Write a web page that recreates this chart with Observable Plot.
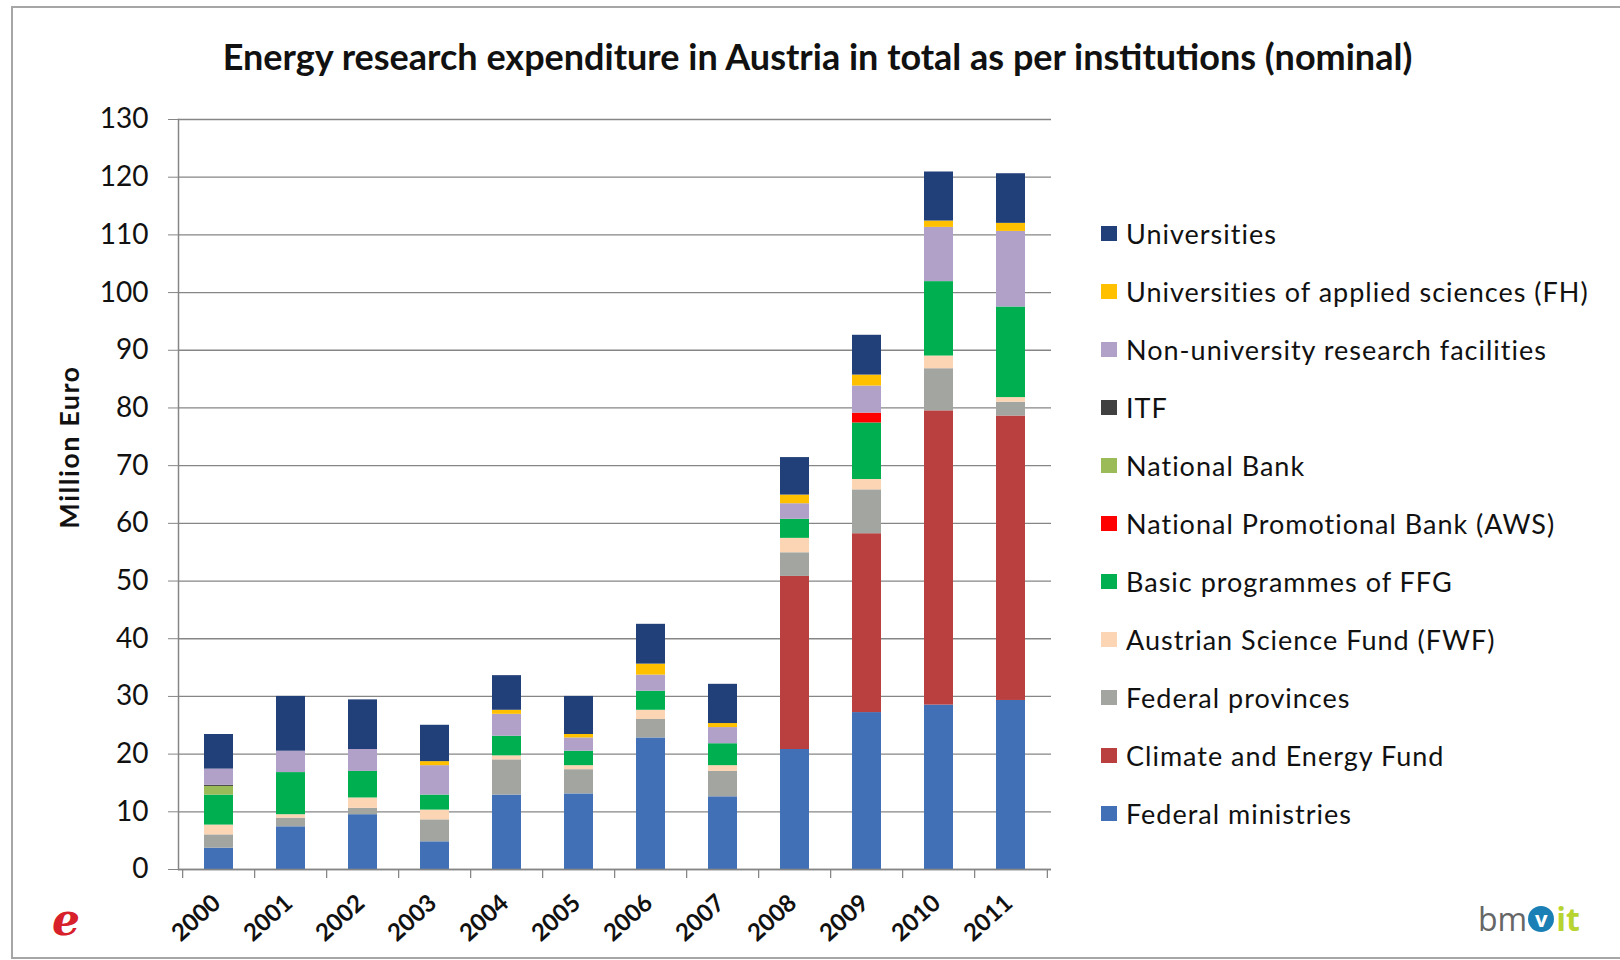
<!DOCTYPE html>
<html>
<head>
<meta charset="utf-8">
<script src="https://cdn.jsdelivr.net/npm/d3@7"></script>
<script src="https://cdn.jsdelivr.net/npm/@observablehq/plot@0.6"></script>
<style>
  body { margin: 0; background: #fff; }
  #wrap { position: relative; width: 1620px; height: 960px; overflow: hidden; font-family: Lato, "Open Sans", sans-serif; color: #111; }
  #border { position: absolute; left: 11px; top: 6px; width: 1640px; height: 949px; border-left: 2px solid #a6a6a6; border-top: 2px solid #a6a6a6; border-bottom: 2px solid #a6a6a6; }
  #title { position: absolute; left: 0; width: 1635px; top: 34px; text-align: center; font-weight: bold; font-size: 36px; }
  #chart { position: absolute; left: 0; top: 0; }
  #ylabel { position: absolute; left: 68px; top: 447px; transform: translate(-50%, -50%) rotate(-90deg); font-weight: bold; font-size: 27px; letter-spacing: 1.5px; white-space: nowrap; }
  #legend { position: absolute; left: 1101px; top: 0; }
  .item { position: absolute; left: 0; white-space: nowrap; font-size: 27px; letter-spacing: 1px; display: flex; align-items: center; }
  .sw { width: 16px; height: 15px; margin-right: 9px; display: inline-block; }
  #logoE { position: absolute; left: 52px; top: 894px; color: #d8202a; font-style: italic; font-weight: bold; font-size: 44px; font-family: "DejaVu Serif", serif; }
  #logoB { position: absolute; left: 1478px; top: 897px; font-size: 32px; color: #666; font-family: "Open Sans", sans-serif; display: flex; align-items: center; }
  #logoB .v { display: inline-block; width: 26px; height: 26px; border-radius: 50%; background: #1a7fb5; color: #fff; font-size: 22px; line-height: 24px; text-align: center; font-weight: bold; margin-left: 1px; }
  #logoB .it { color: #b8d430; font-weight: bold; margin-left: 2px; }
</style>
</head>
<body>
<div id="wrap">
  <div id="border"></div>
  <div id="chart"></div>
  <div id="title"></div>
  <div id="ylabel"></div>
  <div id="legend"></div>
  <div id="logoE">e</div>
  <div id="logoB"><span>bm</span><span class="v">v</span><span class="it">it</span></div>
</div>
<script>
// ---- data ----
const titleText = "Energy research expenditure in Austria in total as per institutions (nominal)";
const yLabelText = "Million Euro";
const years = ["2000","2001","2002","2003","2004","2005","2006","2007","2008","2009","2010","2011"];
const yTicks = [0,10,20,30,40,50,60,70,80,90,100,110,120,130];

// series values (million euro), one array per institution
const federalMinistries   = [3.7, 7.4, 9.5, 4.8, 12.9, 13.1, 22.8, 12.6, 20.8, 27.2, 28.5, 29.3];
const climateEnergyFund   = [0, 0, 0, 0, 0, 0, 0, 0, 30.0, 31.0, 51.0, 49.3];
const federalProvinces    = [2.3, 1.5, 1.1, 3.8, 6.1, 4.2, 3.2, 4.4, 4.1, 7.6, 7.3, 2.4];
const scienceFundFWF      = [1.7, 0.6, 1.8, 1.7, 0.7, 0.7, 1.6, 1.0, 2.5, 1.8, 2.2, 0.8];
const basicFFG            = [5.2, 7.3, 4.6, 2.6, 3.4, 2.5, 3.3, 3.8, 3.3, 9.8, 12.9, 15.7];
const promotionalBankAWS  = [0, 0, 0, 0, 0, 0, 0, 0, 0, 1.7, 0, 0];
const nationalBank        = [1.5, 0, 0, 0, 0, 0, 0, 0, 0, 0, 0, 0];
const itf                 = [0.2, 0, 0, 0, 0, 0, 0, 0, 0, 0, 0, 0];
const nonUniversity       = [2.8, 3.7, 3.8, 5.1, 3.8, 2.3, 2.8, 2.8, 2.7, 4.7, 9.4, 13.1];
const appliedSciencesFH   = [0, 0, 0, 0.7, 0.7, 0.6, 1.9, 0.7, 1.5, 1.9, 1.1, 1.4];
const universities        = [6.0, 9.5, 8.6, 6.3, 6.0, 6.6, 6.9, 6.8, 6.5, 6.9, 8.5, 8.6];

// stack order, bottom to top
const seriesNames = [
  "Federal ministries",
  "Climate and Energy Fund",
  "Federal provinces",
  "Austrian Science Fund (FWF)",
  "Basic programmes of FFG",
  "National Promotional Bank (AWS)",
  "National Bank",
  "ITF",
  "Non-university research facilities",
  "Universities of applied sciences (FH)",
  "Universities"
];
const seriesValues = [federalMinistries, climateEnergyFund, federalProvinces, scienceFundFWF, basicFFG,
  promotionalBankAWS, nationalBank, itf, nonUniversity, appliedSciencesFH, universities];
const seriesColors = ["#4270b6", "#b9403f", "#a2a5a0", "#fcd5b5", "#00b050",
  "#ff0000", "#9bbb59", "#404040", "#b1a0c7", "#ffc000", "#213f78"];

// ---- table ----
const table = [];
seriesNames.forEach((s, si) => years.forEach((yr, yi) => table.push({year: yr, series: s, value: seriesValues[si][yi]})));

// ---- layout ----
const W = 1620, H = 960, mL = 178, mR = 569, mT = 119, mB = 91;
const step = (W - mL - mR) / years.length;
const axisColor = "#868686";

const chart = Plot.plot({
  width: W, height: H,
  marginLeft: mL, marginRight: mR, marginTop: mT, marginBottom: mB,
  style: {fontFamily: "Lato, 'Open Sans', sans-serif", background: "transparent", overflow: "visible", color: "#111"},
  x: {domain: years, paddingInner: 0.6, paddingOuter: 0.3, label: null},
  y: {domain: [0, 130], label: null},
  color: {domain: seriesNames, range: seriesColors},
  marks: [
    Plot.gridY(yTicks, {stroke: axisColor, strokeOpacity: 1, strokeWidth: 1.3}),
    Plot.barY(table, {x: "year", y: "value", fill: "series", order: seriesNames}),
    Plot.ruleY([0], {stroke: axisColor, strokeWidth: 1.5}),
    Plot.frame({anchor: "left", stroke: axisColor, strokeWidth: 1.5}),
    Plot.axisY(yTicks, {tickSize: 10, tickPadding: 20, fontSize: 28, stroke: axisColor, fill: "#111", label: null}),
    Plot.ruleX(years, {x: d => d, dx: -step / 2, y1: 0, y2: 0, insetBottom: -9, stroke: axisColor, strokeWidth: 1.3}),
    Plot.ruleX(years.slice(-1), {x: d => d, dx: step / 2, y1: 0, y2: 0, insetBottom: -9, stroke: axisColor, strokeWidth: 1.3}),
    Plot.axisX({tickSize: 0, tickPadding: 30, tickRotate: -42, fontSize: 24, fontWeight: "bold", dx: -2, label: null, fill: "#111"})
  ]
});
document.getElementById("chart").appendChild(chart);

document.getElementById("title").textContent = titleText;
document.getElementById("ylabel").textContent = yLabelText;

// legend (top to bottom = reverse of stack order)
const legend = document.getElementById("legend");
const legendTop = 233.5, legendGap = 58;
seriesNames.slice().reverse().forEach((name, i) => {
  const color = seriesColors[seriesNames.indexOf(name)];
  const item = document.createElement("div");
  item.className = "item";
  item.style.top = (legendTop + i * legendGap - 17) + "px";
  item.style.height = "34px";
  const sw = document.createElement("span");
  sw.className = "sw";
  sw.style.background = color;
  const tx = document.createElement("span");
  tx.textContent = name;
  item.appendChild(sw); item.appendChild(tx);
  legend.appendChild(item);
});
</script>
</body>
</html>
